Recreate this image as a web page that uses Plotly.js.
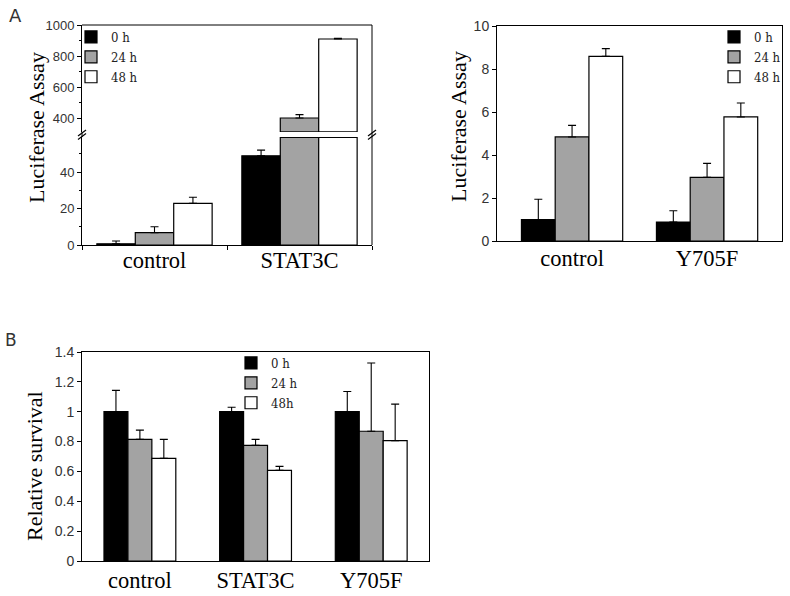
<!DOCTYPE html>
<html><head><meta charset="utf-8">
<script src="https://cdn.plot.ly/plotly-3.0.1.min.js"></script>
<style>html,body{margin:0;padding:0;background:#fff}</style>
</head><body><div id="chart" style="width:790px;height:596px"></div>
<script>
// ---- Data ----
const seriesNamesA = ['0 h', '24 h', '48 h'];
const seriesNamesB = ['0 h', '24 h', '48h'];

// Panel A (left): broken axis
const groupsA1 = ['control', 'STAT3C'];
const a1_0h = [0.7, 49];
const a1_0h_err = [1.5, 3.1];
const a1_24h = [6.75, 402];
const a1_24h_err = [3.3, 22];
const a1_48h = [22.9, 910];
const a1_48h_err = [3.3, 4];

// Panel A (right)
const groupsA2 = ['control', 'Y705F'];
const a2_0h = [0.99, 0.88];
const a2_0h_err = [0.95, 0.53];
const a2_24h = [4.84, 2.96];
const a2_24h_err = [0.54, 0.65];
const a2_48h = [8.59, 5.77];
const a2_48h_err = [0.36, 0.65];

// Panel B
const groupsB = ['control', 'STAT3C', 'Y705F'];
const b_0h = [1.0, 1.0, 1.0];
const b_0h_err = [0.143, 0.03, 0.135];
const b_24h = [0.815, 0.775, 0.869];
const b_24h_err = [0.062, 0.04, 0.457];
const b_48h = [0.688, 0.607, 0.806];
const b_48h_err = [0.127, 0.027, 0.245];

// ---- Styling helpers ----
const W = 790, H = 596;
const X = p => p / W;
const Y = p => 1 - p / H;
const fills = ['#000000', '#a3a3a3', '#ffffff'];
const outline = {color: '#000', width: 1.2};
const errStyle = (arr) => ({type: 'data', array: arr, symmetric: false,
  arrayminus: arr.map(() => 0), color: '#000', thickness: 1.1, width: 4});

const loRange = [0, 59.3];     // lower segment of the broken axis
const upRange = [312, 1000];   // upper segment of the broken axis

function mkBars(cats, vals, errs, names, xa, ya, legend, showlegend, width, offsets, mode) {
  return vals.map((v, i) => {
    let yv = v, base, ev = errs[i];
    if (mode === 'lower') {
      const cap = loRange[1] - 0.25;
      yv = v.map(d => Math.min(d, cap));
      ev = errs[i].map((e, k) => v[k] > cap ? 0 : e);
    } else if (mode === 'upper') {
      const b0 = upRange[0] + 1.5;
      yv = v.map(d => d > b0 ? d - b0 : null);
      base = v.map(() => b0);
      ev = errs[i].map((e, k) => v[k] > b0 ? e : 0);
    }
    const t = {
      type: 'bar', x: cats, y: yv, name: names[i],
      xaxis: xa, yaxis: ya, legend: legend, showlegend: showlegend,
      marker: {color: fills[i], line: outline},
      width: width, offset: offsets[i],
      error_y: errStyle(ev),
      hoverinfo: 'x+y'
    };
    if (base) t.base = base;
    return t;
  });
}

const wA1 = 0.265, offA1 = [-0.3975, -0.1325, 0.1325];
const wA2 = 0.25, offA2 = [-0.375, -0.125, 0.125];
const wB = 0.207, offB = [-0.31, -0.103, 0.104];

const valsA1 = [a1_0h, a1_24h, a1_48h];
const errsA1 = [a1_0h_err, a1_24h_err, a1_48h_err];
const valsA2 = [a2_0h, a2_24h, a2_48h];
const errsA2 = [a2_0h_err, a2_24h_err, a2_48h_err];
const valsB = [b_0h, b_24h, b_48h];
const errsB = [b_0h_err, b_24h_err, b_48h_err];

const data = [].concat(
  mkBars(groupsA1, valsA1, errsA1, seriesNamesA, 'x', 'y', 'legend', true, wA1, offA1, 'lower'),
  mkBars(groupsA1, valsA1, errsA1, seriesNamesA, 'x', 'y2', 'legend', false, wA1, offA1, 'upper'),
  mkBars(groupsA2, valsA2, errsA2, seriesNamesA, 'x2', 'y3', 'legend2', true, wA2, offA2),
  mkBars(groupsB, valsB, errsB, seriesNamesB, 'x3', 'y4', 'legend3', true, wB, offB)
);

const tickFont = {family: 'Liberation Sans, Arial, sans-serif', size: 13, color: '#333'};
const catFont = {family: 'Liberation Serif, Times New Roman, serif', size: 22.5, color: '#000'};
const legFont = {family: 'DejaVu Serif Condensed, DejaVu Serif, serif', size: 13, color: '#222'};
const titleFont = {family: 'Liberation Serif, Times New Roman, serif', size: 22, color: '#000'};
const yBase = {showgrid: false, zeroline: false, showline: true, linecolor: '#000', linewidth: 1,
  ticks: 'outside', ticklen: 4, tickcolor: '#000', tickfont: tickFont, fixedrange: true};
const xBase = {type: 'category', showgrid: false, zeroline: false, showline: true, linecolor: '#000',
  linewidth: 1, tickfont: catFont, fixedrange: true};

const line = (x0, y0, x1, y1, w) => ({type: 'line', xref: 'paper', yref: 'paper',
  x0: X(x0), y0: Y(y0), x1: X(x1), y1: Y(y1), line: {color: '#000', width: w || 1}});

const layout = {
  width: W, height: H,
  margin: {l: 0, r: 0, t: 0, b: 0},
  paper_bgcolor: '#fff', plot_bgcolor: 'rgba(0,0,0,0)',
  barmode: 'overlay',
  xaxis: Object.assign({}, xBase, {domain: [X(82), X(372)], anchor: 'y', range: [-0.5, 1.5],
    ticks: 'outside', tickson: 'boundaries', ticklen: 4, tickcolor: '#000', ticklabelstandoff: -5}),
  yaxis: Object.assign({}, yBase, {domain: [Y(245), Y(137)], anchor: 'x', range: loRange,
    tickvals: [0, 20, 40], minor: {tickvals: [10, 30, 50], ticks: 'outside', ticklen: 2, tickcolor: '#000'}}),
  yaxis2: Object.assign({}, yBase, {domain: [Y(132), Y(25)], anchor: 'x', range: upRange,
    tickvals: [400, 600, 800, 1000], minor: {tickvals: [500, 700, 900], ticks: 'outside', ticklen: 2, tickcolor: '#000'}}),
  xaxis2: Object.assign({}, xBase, {domain: [X(497), X(782)], anchor: 'y3', range: [-0.556, 1.555],
    mirror: true, ticks: '', ticklabelstandoff: -3}),
  yaxis3: Object.assign({}, yBase, {domain: [Y(241), Y(26)], anchor: 'x2', range: [0, 10], dtick: 2,
    mirror: true, tickfont: Object.assign({}, tickFont, {size: 14})}),
  xaxis3: Object.assign({}, xBase, {domain: [X(82), X(429)], anchor: 'y4', range: [-0.5, 2.5],
    mirror: true, ticks: '', ticklabelstandoff: -1}),
  yaxis4: Object.assign({}, yBase, {domain: [Y(561), Y(352)], anchor: 'x3', range: [0, 1.4], dtick: 0.2,
    mirror: true, tickfont: Object.assign({}, tickFont, {size: 14})}),
  legend: {x: X(71), y: Y(22), xanchor: 'left', yanchor: 'top', bgcolor: 'rgba(0,0,0,0)',
    font: legFont, itemwidth: 30},
  legend2: {x: X(714), y: Y(22), xanchor: 'left', yanchor: 'top', bgcolor: 'rgba(0,0,0,0)',
    font: legFont, itemwidth: 30},
  legend3: {x: X(231), y: Y(348), xanchor: 'left', yanchor: 'top', bgcolor: 'rgba(0,0,0,0)',
    font: legFont, itemwidth: 30},
  shapes: [
    line(82, 25, 372, 25), line(372, 25, 372, 245), line(82, 132, 82, 137),
    line(78, 136, 86, 130, 1.2), line(78, 139.5, 86, 133.5, 1.2),
    line(368, 136, 376, 130, 1.2), line(368, 139.5, 376, 133.5, 1.2)
  ],
  annotations: [
    {text: 'Luciferase Assay', xref: 'paper', yref: 'paper', x: X(36), y: Y(128), textangle: -90,
      xanchor: 'center', yanchor: 'middle', showarrow: false, font: titleFont},
    {text: 'Luciferase Assay', xref: 'paper', yref: 'paper', x: X(458), y: Y(127), textangle: -90,
      xanchor: 'center', yanchor: 'middle', showarrow: false, font: titleFont},
    {text: 'Relative survival', xref: 'paper', yref: 'paper', x: X(34), y: Y(466), textangle: -90,
      xanchor: 'center', yanchor: 'middle', showarrow: false, font: titleFont},
    {text: 'A', xref: 'paper', yref: 'paper', x: X(15), y: Y(16), xanchor: 'center', yanchor: 'middle',
      showarrow: false, font: {family: 'DejaVu Sans, sans-serif', size: 18, color: '#333'}},
    {text: 'B', xref: 'paper', yref: 'paper', x: X(11), y: Y(340), xanchor: 'center', yanchor: 'middle',
      showarrow: false, font: {family: 'DejaVu Sans, sans-serif', size: 17, color: '#333'}}
  ]
};

Plotly.newPlot('chart', data, layout, {displayModeBar: false, staticPlot: true});
</script></body></html>
